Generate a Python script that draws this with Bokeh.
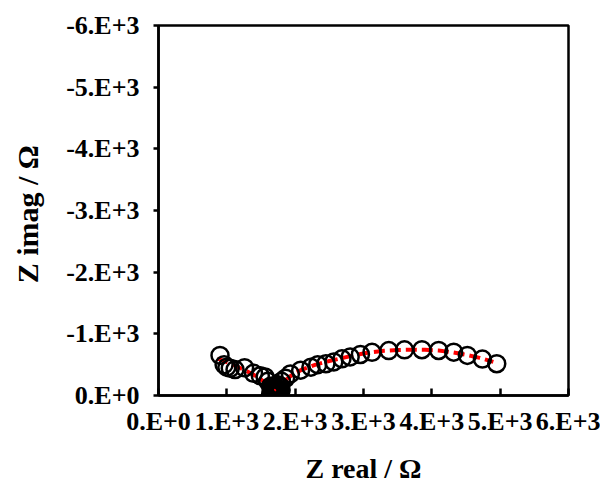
from bokeh.plotting import figure
from bokeh.models import Range1d, FixedTicker
from bokeh.embed import file_html
from bokeh.resources import INLINE

# Measured data (Z real, Z imag) in ohms
z_real = [900, 960, 1000, 1050, 1120, 1260, 1390, 1490, 1560, 1600, 1640, 1660,
          1680, 1690, 1700, 1705, 1710, 1720, 1730, 1740, 1760, 1800,
          1650, 1670, 1695, 1715, 1735, 1750, 1770, 1785, 1665, 1690, 1725, 1745,
          1710, 1680, 1755, 1700, 1640, 1660, 1775, 1795, 1720, 1735, 1685, 1760,
          1860, 1930, 2080, 2230, 2330, 2450, 2565, 2685, 2805, 2955, 3125,
          3370, 3600, 3855, 4100, 4320, 4520, 4740, 4950]
z_imag = [-650, -500, -460, -440, -420, -450, -360, -320, -300, -230, -150, -100,
          -60, -30, -10, -40, -80, -20, -60, -110, -170, -230,
          -60, -20, -120, -130, -10, -50, -90, -140, -130, -70, -100, -30,
          -5, -150, -80, -160, -20, -90, -40, -90, -60, -170, -110, -20,
          -280, -350, -410, -460, -500, -515, -545, -595, -625, -665, -700,
          -728, -740, -742, -730, -702, -650, -590, -515]

# Fitted curve
fit_real = [860, 1000, 1150, 1300, 1450, 1570, 1650, 1700, 1760, 1850, 1950, 2100,
            2300, 2500, 2700, 2900, 3100, 3300, 3500, 3700, 3900, 4100, 4300,
            4500, 4700, 4900]
fit_imag = [-600, -540, -470, -390, -300, -200, -110, -70, -130, -240, -330, -420,
            -500, -560, -610, -660, -700, -725, -738, -742, -740, -728, -700,
            -660, -610, -545]

x_ticks = [0, 1000, 2000, 3000, 4000, 5000, 6000]
x_tick_labels = ["0.E+0", "1.E+3", "2.E+3", "3.E+3", "4.E+3", "5.E+3", "6.E+3"]
y_ticks = [0, -1000, -2000, -3000, -4000, -5000, -6000]
y_tick_labels = ["0.E+0", "-1.E+3", "-2.E+3", "-3.E+3", "-4.E+3", "-5.E+3", "-6.E+3"]

FONT = "Liberation Serif"

p = figure(width=600, height=486, x_range=Range1d(0, 6000), y_range=Range1d(0, -6000),
           output_backend="svg", toolbar_location=None,
           min_border_left=158, min_border_right=32, min_border_top=25, min_border_bottom=91,
           x_axis_label="Z real / Ω", y_axis_label="Z  imag / Ω")
p.background_fill_color = "white"
p.border_fill_color = "white"
p.xgrid.visible = False
p.ygrid.visible = False
p.outline_line_color = "black"
p.outline_line_width = 2.5

p.line(fit_real, fit_imag, line_color="#FF0000", line_width=4, line_dash="11 5")
p.scatter(z_real, z_imag, size=17, fill_color=None, line_color="black", line_width=2.5)

xa = p.xaxis[0]
xa.ticker = FixedTicker(ticks=x_ticks)
xa.major_label_overrides = {t: l for t, l in zip(x_ticks, x_tick_labels)}
xa.major_tick_in = 7
xa.major_tick_out = 0
xa.minor_tick_line_color = None

ya = p.yaxis[0]
ya.ticker = FixedTicker(ticks=y_ticks)
ya.major_label_overrides = {t: l for t, l in zip(y_ticks, y_tick_labels)}
ya.major_tick_in = 0
ya.major_tick_out = 5
ya.minor_tick_line_color = None

for ax in (xa, ya):
    ax.axis_line_width = 2.5
    ax.major_tick_line_width = 2.5
    ax.major_label_text_font = FONT
    ax.major_label_text_font_style = "bold"
    ax.major_label_text_font_size = "26px"
    ax.major_label_text_color = "black"
    ax.axis_label_text_font = FONT
    ax.axis_label_text_font_style = "bold"
    ax.axis_label_text_color = "black"

xa.axis_label_text_font_size = "28px"
ya.axis_label_text_font_size = "30px"
xa.major_label_standoff = 11
xa.axis_label_standoff = 14
ya.major_label_standoff = 14
ya.axis_label_standoff = 19

open("out.html", "w").write(file_html(p, INLINE))
